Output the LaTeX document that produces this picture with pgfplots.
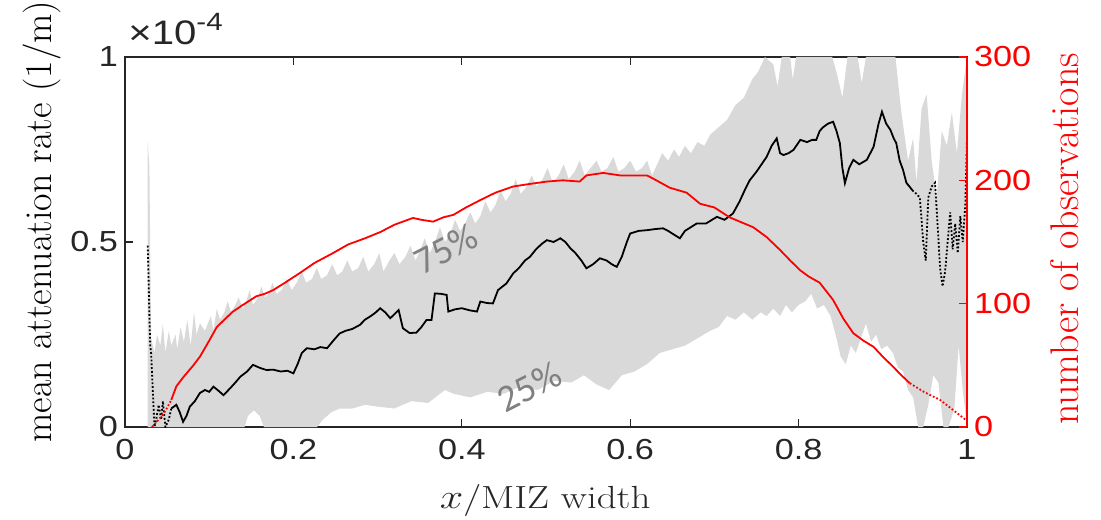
\documentclass[border=0pt]{standalone}
\usepackage{fontspec}
\usepackage{pgfplots}
\pgfplotsset{compat=1.18}
\newfontfamily\arial[FakeStretch=1.18]{Liberation Sans}
\newfontfamily\cali{Carlito}
\definecolor{band}{RGB}{217,217,217}
\definecolor{axc}{RGB}{38,38,38}
\definecolor{lbl}{RGB}{128,128,128}
\begin{document}
\begin{tikzpicture}
\path[use as bounding box] (-62.5pt,-46pt) rectangle (488pt,213.5pt);
\begin{axis}[
  scale only axis, width=421pt, height=185pt,
  xmin=0, xmax=1, ymin=0, ymax=1,
  xtick={0,0.2,0.4,0.6,0.8,1}, xticklabels={0,0.2,0.4,0.6,0.8,1},
  ytick={0,0.5,1}, yticklabels={0,0.5,1},
  xtick pos=both, ytick pos=left,
  tick align=inside, major tick length=4pt,
  axis line style={axc, line width=0.6pt},
  tick style={axc, line width=0.6pt},
  tick label style={font=\arial\fontsize{14.5}{17}\selectfont, text=axc},
  xticklabel style={yshift=-2.5pt},
  /pgf/number format/assume math mode=true,
  scaled y ticks=false,
  xlabel={\scalebox{1.22}[1]{$x$/MIZ width}},
  xlabel style={font=\fontsize{16}{19}\selectfont, text=axc, at={(axis description cs:0.499,-0.219)}, anchor=base},
  ylabel={mean attenuation rate (1/m)},
  ylabel style={font=\fontsize{19}{22}\selectfont, text=black, at={(axis description cs:-0.0986,0.555)}, anchor=center},
  clip mode=individual,
]
% interquartile band (25%-75%)
\addplot[fill=band, draw=none] coordinates {
(0.027,0) (0.027,0.77) (0.029,0.70) (0.031,0.24) (0.035,0.20) (0.038,0.25) (0.042,0.22) (0.045,0.28) (0.048,0.20) (0.052,0.26) (0.055,0.22)
(0.060,0.25) (0.062,0.21) (0.066,0.27) (0.070,0.23) (0.074,0.29) (0.078,0.22) (0.082,0.31) (0.085,0.25) (0.089,0.28) (0.095,0.26) (0.102,0.30) (0.105,0.26) (0.109,0.32)
(0.113,0.29) (0.118,0.31) (0.122,0.34) (0.126,0.31) (0.131,0.33) (0.135,0.35) (0.140,0.32) (0.144,0.34) (0.148,0.37) (0.152,0.33) (0.158,0.35) (0.162,0.38)
(0.166,0.35) (0.171,0.36) (0.175,0.39) (0.180,0.36) (0.186,0.37) (0.192,0.40) (0.198,0.37) (0.204,0.39) (0.210,0.42) (0.215,0.39) (0.222,0.40) (0.228,0.43)
(0.233,0.40) (0.240,0.41) (0.246,0.44) (0.252,0.41) (0.258,0.42) (0.264,0.45) (0.270,0.42) (0.277,0.43) (0.283,0.46) (0.289,0.42) (0.296,0.44) (0.302,0.47)
(0.307,0.42) (0.314,0.45) (0.320,0.47) (0.326,0.44) (0.333,0.46) (0.339,0.49) (0.345,0.45) (0.351,0.48) (0.356,0.51) (0.362,0.47) (0.368,0.50) (0.374,0.54)
(0.380,0.50) (0.386,0.52) (0.392,0.56) (0.398,0.53) (0.404,0.55) (0.410,0.58) (0.416,0.55) (0.422,0.57) (0.428,0.61) (0.434,0.58) (0.440,0.60) (0.446,0.64)
(0.452,0.61) (0.458,0.63) (0.464,0.67) (0.470,0.63) (0.477,0.65) (0.483,0.68) (0.489,0.65) (0.496,0.67) (0.502,0.70) (0.508,0.66) (0.515,0.68) (0.521,0.71)
(0.527,0.67) (0.534,0.69) (0.540,0.72) (0.546,0.68) (0.553,0.70) (0.560,0.72) (0.566,0.69) (0.573,0.70) (0.580,0.73) (0.586,0.69) (0.593,0.70) (0.600,0.72)
(0.607,0.69) (0.614,0.70) (0.620,0.72) (0.626,0.68) (0.632,0.71) (0.638,0.74) (0.645,0.72) (0.652,0.75) (0.658,0.73) (0.665,0.76) (0.672,0.74) (0.680,0.77)
(0.688,0.76) (0.695,0.79) (0.705,0.81) (0.715,0.83)
(0.725,0.87) (0.735,0.89) (0.745,0.94) (0.752,0.96) (0.760,1.0) (0.770,0.98) (0.775,0.92) (0.780,1.0)
(0.790,1.0) (0.793,0.94) (0.797,1.0) (0.840,1.0) (0.846,0.95) (0.852,0.89) (0.858,1.0) (0.870,1.0)
(0.875,0.93) (0.880,1.0) (0.915,1.0) (0.922,0.85) (0.930,0.72) (0.936,0.78) (0.940,0.66) (0.946,0.86)
(0.952,0.90) (0.958,0.72) (0.964,0.62) (0.970,0.80) (0.976,0.76) (0.982,0.85) (0.988,0.74) (0.994,0.90)
(1.000,1.0)
(1.000,0) (0.995,0.10) (0.990,0.22) (0.985,0.05) (0.978,0.0) (0.972,0.0) (0.966,0.12) (0.960,0.14)
(0.954,0.06) (0.948,0.0) (0.942,0.0) (0.936,0.08) (0.930,0.10) (0.924,0.15) (0.918,0.16) (0.912,0.20)
(0.905,0.22) (0.898,0.21) (0.892,0.25) (0.886,0.23) (0.880,0.28) (0.874,0.24) (0.868,0.20) (0.862,0.22)
(0.856,0.17) (0.850,0.19) (0.845,0.24) (0.838,0.30) (0.830,0.33) (0.822,0.32) (0.815,0.36) (0.808,0.34)
(0.800,0.33) (0.792,0.31) (0.785,0.33) (0.778,0.30) (0.770,0.32) (0.762,0.30) (0.755,0.31) (0.745,0.29)
(0.735,0.31) (0.725,0.29) (0.715,0.30) (0.705,0.27) (0.695,0.26) (0.680,0.24) (0.665,0.22) (0.650,0.21)
(0.635,0.20) (0.620,0.17) (0.605,0.15) (0.590,0.14) (0.575,0.10) (0.560,0.115) (0.545,0.14) (0.530,0.12)
(0.510,0.125) (0.490,0.10) (0.470,0.11) (0.450,0.09) (0.430,0.095) (0.410,0.08) (0.390,0.09) (0.380,0.10)
(0.360,0.065) (0.340,0.07) (0.320,0.05) (0.300,0.055) (0.285,0.06) (0.270,0.05) (0.255,0.05) (0.245,0.04)
(0.235,0.02) (0.228,0.0) (0.165,0.0) (0.160,0.03) (0.153,0.045) (0.146,0.03) (0.142,0.0) (0.027,0)
} -- cycle;
% mean, sparse ends (dotted)
\addplot[black, densely dotted, line width=0.9pt] coordinates {
(0.027,0.49) (0.028,0.40) (0.029,0.30) (0.030,0.22) (0.031,0.20) (0.033,0.10) (0.035,0.0) (0.037,0.02)
(0.040,0.06) (0.043,0.02) (0.045,0.07) (0.048,0.0) (0.052,0.02) (0.055,0.05)
};
\addplot[black, densely dotted, line width=0.9pt] coordinates {
(0.935,0.64) (0.940,0.63) (0.944,0.62) (0.948,0.50) (0.951,0.45) (0.954,0.62) (0.958,0.65) (0.962,0.66)
(0.965,0.55) (0.968,0.43) (0.971,0.38) (0.974,0.42) (0.977,0.50) (0.980,0.58) (0.983,0.48) (0.986,0.55)
(0.989,0.47) (0.992,0.57) (0.995,0.50) (0.998,0.60) (1.000,0.78)
};
% mean attenuation rate
\addplot[black, line width=0.9pt] coordinates {
(0.055,0.05) (0.061,0.06) (0.065,0.04) (0.069,0.014) (0.073,0.03) (0.077,0.055) (0.083,0.07) (0.089,0.092)
(0.095,0.10) (0.100,0.095) (0.105,0.109) (0.110,0.10) (0.117,0.086) (0.125,0.105) (0.131,0.12) (0.137,0.136)
(0.145,0.15) (0.152,0.168) (0.160,0.16) (0.168,0.154) (0.176,0.155) (0.185,0.15) (0.193,0.152) (0.200,0.145)
(0.205,0.17) (0.210,0.20) (0.216,0.213) (0.225,0.21) (0.232,0.216) (0.240,0.213) (0.248,0.235) (0.255,0.253)
(0.262,0.26) (0.270,0.265) (0.279,0.276) (0.285,0.29) (0.292,0.30) (0.298,0.31) (0.303,0.321) (0.309,0.31)
(0.315,0.294) (0.320,0.305) (0.325,0.316) (0.330,0.267) (0.338,0.254) (0.346,0.255) (0.352,0.27) (0.358,0.289)
(0.364,0.289) (0.368,0.361) (0.375,0.36) (0.382,0.357) (0.384,0.312) (0.392,0.318) (0.400,0.321) (0.410,0.315)
(0.418,0.312) (0.422,0.339) (0.430,0.335) (0.437,0.334) (0.443,0.37) (0.453,0.388) (0.461,0.415) (0.468,0.43)
(0.475,0.45) (0.481,0.46) (0.488,0.48) (0.495,0.495) (0.501,0.505) (0.509,0.50) (0.517,0.51) (0.523,0.50)
(0.529,0.483) (0.535,0.47) (0.542,0.45) (0.548,0.429) (0.556,0.44) (0.564,0.456) (0.572,0.45) (0.578,0.44)
(0.584,0.433) (0.590,0.46) (0.596,0.50) (0.600,0.523) (0.610,0.53) (0.620,0.532) (0.630,0.535) (0.639,0.537)
(0.645,0.53) (0.652,0.52) (0.659,0.51) (0.665,0.53) (0.672,0.54) (0.679,0.55) (0.690,0.55) (0.703,0.568)
(0.712,0.56) (0.722,0.577) (0.730,0.61) (0.736,0.64) (0.742,0.667) (0.750,0.69) (0.756,0.71) (0.762,0.73)
(0.768,0.76) (0.774,0.78) (0.778,0.74) (0.782,0.735) (0.788,0.74) (0.794,0.749) (0.802,0.776) (0.810,0.77)
(0.816,0.776) (0.821,0.776) (0.825,0.80) (0.829,0.81) (0.835,0.82) (0.841,0.825) (0.845,0.80) (0.849,0.767)
(0.852,0.70) (0.855,0.659) (0.860,0.70) (0.865,0.722) (0.872,0.71) (0.881,0.722) (0.889,0.757) (0.895,0.82)
(0.899,0.852) (0.904,0.82) (0.909,0.803) (0.913,0.78) (0.916,0.767) (0.920,0.72) (0.924,0.695) (0.928,0.66)
(0.932,0.649) (0.935,0.64)
};
\node[text=lbl, font=\cali\fontsize{19}{22}\selectfont, rotate=27] at (axis cs:0.381,0.481) {75\%};
\node[text=lbl, font=\cali\fontsize{19}{22}\selectfont, rotate=27] at (axis cs:0.480,0.108) {25\%};
\node[anchor=base west, text=axc, font=\arial\fontsize{17}{20}\selectfont, inner sep=0pt] at ([xshift=1.5pt,yshift=6pt]rel axis cs:0,1) {×10\raisebox{7pt}{\fontsize{12.5}{14}\selectfont -4}};
\end{axis}
\begin{axis}[
  scale only axis, width=421pt, height=185pt,
  xmin=0, xmax=1, ymin=0, ymax=300,
  axis x line=none, axis y line*=right,
  ytick={0,100,200,300}, yticklabels={0,100,200,300},
  tick align=inside, major tick length=4pt,
  y axis line style={red, line width=0.6pt, -},
  ytick style={red, line width=0.6pt},
  yticklabel style={font=\arial\fontsize{14.5}{17}\selectfont, text=red},
  /pgf/number format/assume math mode=true,
  ylabel={number of observations},
  ylabel style={font=\fontsize{20}{23}\selectfont, text=red, at={(axis description cs:1.1164,0.508)}, anchor=center},
  clip=true,
]
\addplot[red, densely dotted, line width=0.9pt] coordinates {
(0.032,0) (0.040,6) (0.048,13) (0.055,22)
};
\addplot[red, line width=0.9pt] coordinates {
(0.055,22) (0.061,33) (0.070,41) (0.080,49) (0.089,57) (0.100,70) (0.109,81) (0.118,87) (0.128,93.5)
(0.140,99) (0.156,106) (0.166,108) (0.176,111) (0.190,117) (0.208,125) (0.225,133) (0.247,141) (0.265,148)
(0.285,153) (0.303,158) (0.320,164) (0.342,169.5) (0.352,168) (0.366,166.5) (0.378,170) (0.390,172) (0.405,178)
(0.422,184) (0.440,190) (0.461,195) (0.480,197) (0.501,199) (0.520,200) (0.540,199) (0.548,204) (0.568,206)
(0.588,204) (0.604,204) (0.620,204) (0.631,200) (0.647,194) (0.667,190) (0.683,181) (0.700,178) (0.718,170)
(0.732,166) (0.746,162) (0.762,154) (0.778,143.5) (0.790,135) (0.802,127) (0.812,122) (0.825,117) (0.841,103)
(0.853,88) (0.865,76) (0.877,70) (0.889,65) (0.900,57) (0.912,49) (0.922,42) (0.932,35.5)
};
\addplot[red, densely dotted, line width=0.9pt] coordinates {
(0.932,35.5) (0.950,28) (0.968,22) (0.985,13) (1.0,5)
};
\end{axis}
\end{tikzpicture}
\end{document}
